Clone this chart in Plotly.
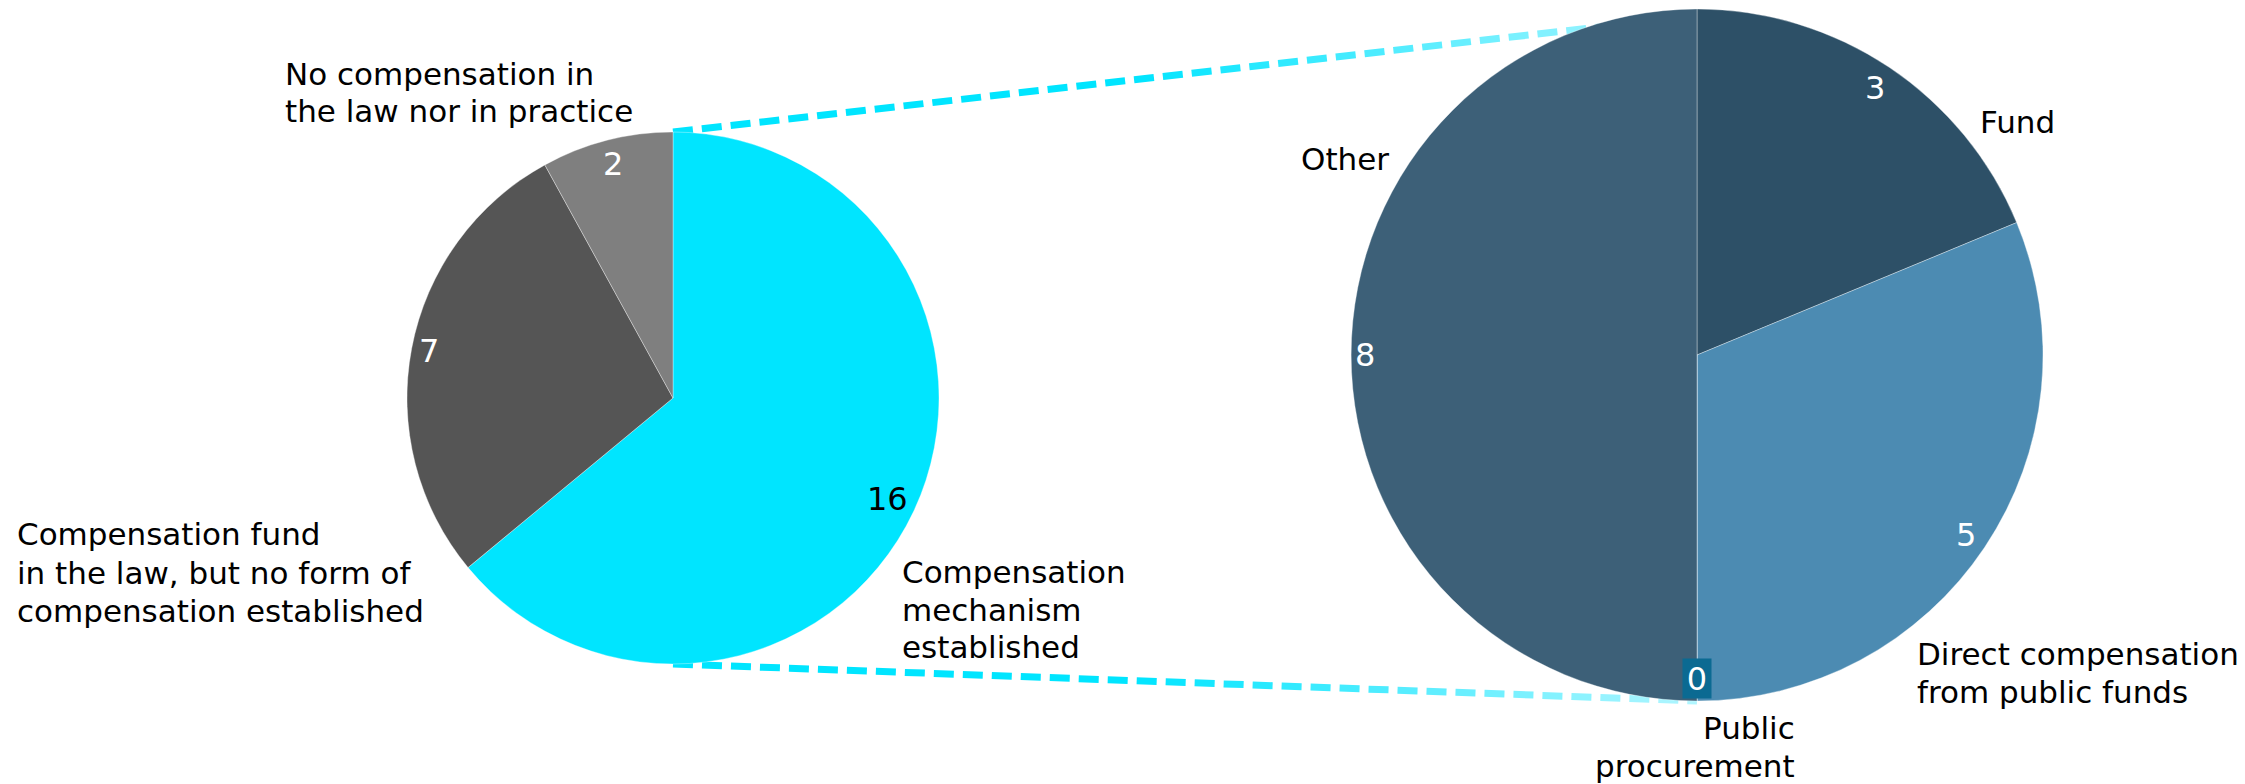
import math
import plotly.graph_objects as go

W, H = 2245, 784

# ---- data ----
main_labels = ["Compensation mechanism established",
               "Compensation fund in the law, but no form of compensation established",
               "No compensation in the law nor in practice"]
main_values = [16, 7, 2]
main_colors = ["#00E5FF", "#555555", "#7F7F7F"]
main_text_colors = ["#000000", "#FFFFFF", "#FFFFFF"]

detail_labels = ["Fund", "Direct compensation from public funds",
                 "Public procurement", "Other"]
detail_values = [3, 5, 0, 8]
detail_colors = ["#2D5067", "#4C8BB2", "#0B6A92", "#3D6078"]

# ---- geometry (pixels) ----
main_center, main_r = (673, 398), 266
detail_center, detail_r = (1697, 355), 346

FONT = "DejaVu Sans"
LABEL_SIZE = 31
VALUE_SIZE = 32


def px(x, y):
    return x / W, 1 - y / H


def domain(center, r):
    cx, cy = center
    return dict(x=[(cx - r) / W, (cx + r) / W],
                y=[1 - (cy + r) / H, 1 - (cy - r) / H])


fig = go.Figure()
fig.add_trace(go.Pie(
    labels=main_labels, values=main_values, sort=False, direction="clockwise",
    rotation=0, domain=domain(main_center, main_r), textinfo="none",
    marker=dict(colors=main_colors, line=dict(color="rgba(255,255,255,0.35)", width=1)),
    showlegend=False, hoverinfo="label+value"))
fig.add_trace(go.Pie(
    labels=detail_labels, values=detail_values, sort=False, direction="clockwise",
    rotation=0, domain=domain(detail_center, detail_r), textinfo="none",
    marker=dict(colors=detail_colors, line=dict(color="rgba(255,255,255,0.35)", width=1)),
    showlegend=False, hoverinfo="label+value"))

annotations = []


def value_labels(values, center, r, colors, boxed=None):
    total = sum(values)
    acc = 0
    cx, cy = center
    for i, v in enumerate(values):
        mid = (acc + v / 2) / total * 2 * math.pi
        acc += v
        s, c = math.sin(mid), math.cos(mid)
        half_w = 9 * len(str(v))
        inset = half_w * abs(s) + 18 * abs(c) + 5
        rl = r - inset
        x, y = cx + rl * s, cy - rl * c
        xp, yp = px(x, y)
        ann = dict(x=xp, y=yp, xref="paper", yref="paper", text=str(v),
                   showarrow=False, xanchor="center", yanchor="middle",
                   font=dict(family=FONT, size=VALUE_SIZE, color=colors[i]))
        if boxed is not None and boxed[i]:
            ann.update(bgcolor=boxed[i], width=28, height=39, borderpad=0)
        annotations.append(ann)


value_labels(main_values, main_center, main_r, main_text_colors)
value_labels(detail_values, detail_center, detail_r, ["#FFFFFF"] * 4,
             boxed=[None, None, "#0B6A92", None])

# category labels: (lines, x, baselines, anchor)
category_labels = [
    (["No compensation in", "the law nor in practice"], 283, [85, 122], "left"),
    (["Compensation fund", "in the law, but no form of", "compensation established"],
     15, [545, 584, 622], "left"),
    (["Compensation", "mechanism", "established"], 900, [583, 620.5, 658], "left"),
    (["Other"], 1391, [170], "right"),
    (["Fund"], 1978, [132.5], "left"),
    (["Direct compensation", "from public funds"], 1915, [665, 702.5], "left"),
    (["Public", "procurement"], 1797, [738.5, 776.5], "right"),
]
for lines, x, baselines, anchor in category_labels:
    for line, base in zip(lines, baselines):
        xp, yp = px(x, base - 0.346 * LABEL_SIZE)
        annotations.append(dict(x=xp, y=yp, xref="paper", yref="paper", text=line,
                                showarrow=False, xanchor=anchor, yanchor="middle",
                                font=dict(family=FONT, size=LABEL_SIZE, color="#000000")))

# dashed connectors from the main pie to the detail pie, fading towards the end
shapes = []


def connector(p0, p1, dash=20, gap=9, width=7):
    (x0, y0), (x1, y1) = p0, p1
    length = math.hypot(x1 - x0, y1 - y0)
    ux, uy = (x1 - x0) / length, (y1 - y0) / length
    d = 0.0
    start_rgb, end_rgb = (0, 229, 255), (178, 246, 255)
    while d < length:
        e = min(d + dash, length)
        t = (d + e) / 2 / length
        f = max(0.0, (t - 0.45) / 0.55)
        rgb = [round(a + (b - a) * f) for a, b in zip(start_rgb, end_rgb)]
        ax, ay = px(x0 + ux * d, y0 + uy * d)
        bx, by = px(x0 + ux * e, y0 + uy * e)
        shapes.append(dict(type="line", xref="paper", yref="paper",
                           x0=ax, y0=ay, x1=bx, y1=by, layer="below",
                           line=dict(color="rgb(%d,%d,%d)" % tuple(rgb), width=width)))
        d += dash + gap


connector((main_center[0], main_center[1] - main_r), (detail_center[0], 16))
connector((main_center[0], main_center[1] + main_r), (detail_center[0], detail_center[1] + detail_r))

fig.update_layout(width=W, height=H, margin=dict(l=0, r=0, t=0, b=0),
                  paper_bgcolor="white", plot_bgcolor="white",
                  annotations=annotations, shapes=shapes,
                  font=dict(family=FONT))

fig.write_html("out.html")
